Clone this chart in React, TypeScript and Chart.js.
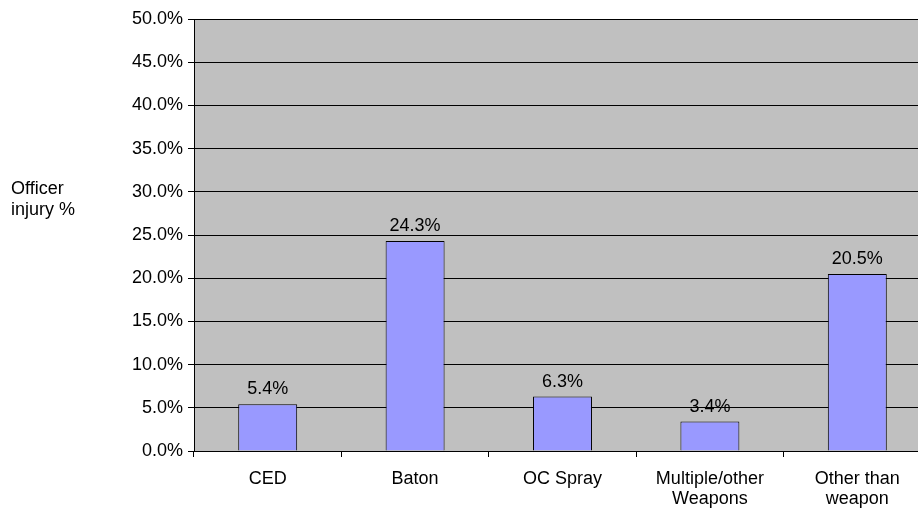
import React, { useEffect, useRef } from "react";
import { Chart, registerables } from "chart.js";

Chart.register(...registerables);

const categories: (string | string[])[] = ["CED", "Baton", "OC Spray", ["Multiple/other", "Weapons"], ["Other than", "weapon"]];
const injuryValues = [5.4, 24.3, 6.3, 3.4, 20.5];
const yAxisTitle = ["Officer", "injury %"];
const yMax = 50;
const yStep = 5;

const FONT = '"Liberation Sans", Arial, sans-serif';

export default function App() {
  const ref = useRef<HTMLCanvasElement | null>(null);
  useEffect(() => {
    const canvas = ref.current!;
    const bgPlugin = {
      id: "bg",
      beforeDraw(chart: any) {
        const { ctx, chartArea } = chart;
        ctx.save();
        ctx.fillStyle = "#c0c0c0";
        ctx.fillRect(chartArea.left, chartArea.top, chartArea.right - chartArea.left, chartArea.bottom - chartArea.top);
        ctx.restore();
      },
      afterDraw(chart: any) {
        const ctx = chart.ctx;
        ctx.save();
        ctx.fillStyle = "#000";
        ctx.font = `18px ${FONT}`;
        ctx.textAlign = "left";
        ctx.textBaseline = "alphabetic";
        ctx.fillText(yAxisTitle[0], 11, 194);
        ctx.fillText(yAxisTitle[1], 11, 215);
        const meta = chart.getDatasetMeta(0);
        ctx.textAlign = "center";
        meta.data.forEach((bar: any, i: number) => {
          ctx.fillText(injuryValues[i].toFixed(1) + "%", bar.x, bar.y - 10);
        });
        ctx.restore();
      },
    };
    const chart = new Chart(canvas, {
      type: "bar",
      data: {
        labels: categories,
        datasets: [
          {
            data: injuryValues,
            backgroundColor: "#9999ff",
            borderColor: "#000000",
            borderWidth: 1,
            categoryPercentage: 1,
            barPercentage: 0.4,
          },
        ],
      },
      options: {
        responsive: false,
        animation: false,
        layout: { padding: { top: 19, right: 9, bottom: 0, left: 0 } },
        plugins: { legend: { display: false }, tooltip: { enabled: false } },
        scales: {
          x: {
            grid: { drawOnChartArea: false, drawTicks: true, tickLength: 6, color: "#000" },
            border: { color: "#000" },
            ticks: { color: "#000", font: { family: FONT, size: 18, lineHeight: 1.1 }, padding: 12, maxRotation: 0, autoSkip: false },
            afterFit(scale: any) {
              scale.height = 57;
            },
          },
          y: {
            min: 0,
            max: yMax,
            grid: { color: "#000", tickLength: 6 },
            border: { color: "#000" },
            ticks: {
              stepSize: yStep,
              color: "#000",
              padding: 5,
              font: { family: FONT, size: 18 },
              callback: (v: any) => Number(v).toFixed(1) + "%",
            },
            afterFit(scale: any) {
              scale.width = 194;
            },
          },
        },
      },
      plugins: [bgPlugin],
    } as any);
    return () => chart.destroy();
  }, []);
  return (
    <div style={{ position: "fixed", left: 0, top: 0, width: 918, height: 508, overflow: "hidden", background: "#fff" }}>
      <canvas ref={ref} width={940} height={508} style={{ display: "block" }} />
    </div>
  );
}
